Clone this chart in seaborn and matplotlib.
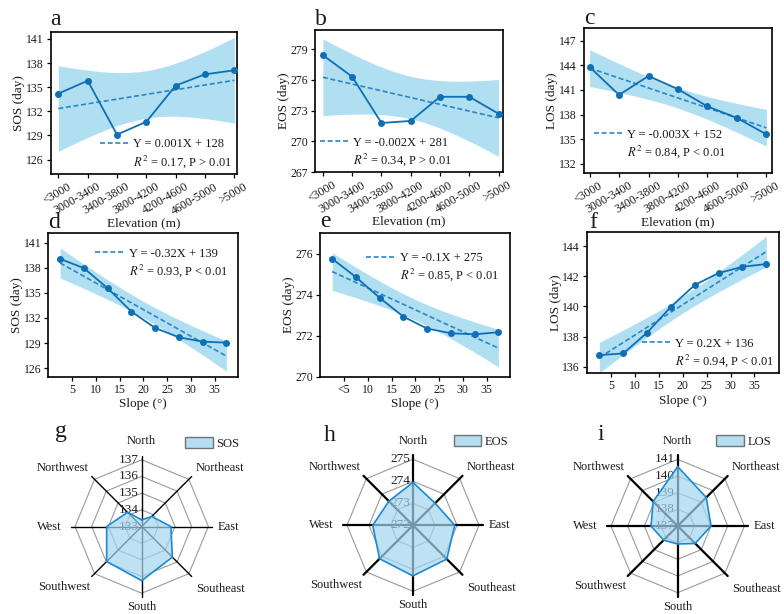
import numpy as np
import pandas as pd
import matplotlib
matplotlib.use('Agg')
import matplotlib.pyplot as plt
import matplotlib.transforms as mtrans
from matplotlib.lines import Line2D
from matplotlib.patches import Patch
import seaborn as sns

sns.set_theme(style='ticks')
plt.rcParams['font.family'] = ['Liberation Serif', 'DejaVu Serif']
plt.rcParams['mathtext.fontset'] = 'stix'

# ---------------- data ----------------
elev_cats = ['<3000', '3000-3400', '3400-3800', '3800-4200', '4200-4600', '4600-5000', '>5000']
sos_elev = [134.2, 135.8, 129.1, 130.7, 135.2, 136.6, 137.1]
eos_elev = [278.4, 276.3, 271.8, 272.0, 274.35, 274.35, 272.7]
los_elev = [143.8, 140.4, 142.7, 141.1, 139.0, 137.6, 135.6]

slope_mid = [2.5, 7.5, 12.5, 17.5, 22.5, 27.5, 32.5, 37.5]
sos_slope = [139.05, 137.94, 135.55, 132.76, 130.81, 129.70, 129.18, 129.06]
eos_slope = [275.76, 274.86, 273.85, 272.93, 272.35, 272.12, 272.07, 272.17]
los_slope = [136.77, 136.88, 138.26, 139.98, 141.43, 142.22, 142.64, 142.82]

aspects = ['North', 'Northeast', 'East', 'Southeast', 'South', 'Southwest', 'West', 'Northwest']
sos_aspect = [133.4, 133.85, 134.75, 135.6, 136.25, 135.97, 135.1, 134.2]
eos_aspect = [273.95, 273.42, 273.9, 274.17, 274.3, 274.15, 273.83, 273.55]
los_aspect = [140.56, 139.42, 139.0, 138.48, 138.08, 138.2, 138.6, 139.08]

eq_texts = ['Y = 0.001X + 128', 'Y = -0.002X + 281', 'Y = -0.003X + 152',
            'Y = -0.32X + 139', 'Y = -0.1X + 275', 'Y = 0.2X + 136']
r2_texts = [r'$R^2$ = 0.17, P > 0.01', r'$R^2$ = 0.34, P > 0.01', r'$R^2$ = 0.84, P < 0.01',
            r'$R^2$ = 0.93, P < 0.01', r'$R^2$ = 0.85, P < 0.01', r'$R^2$ = 0.94, P < 0.01']

# ---------------- style ----------------
W, H = 784, 614
fig = plt.figure(figsize=(W / 100, H / 100), dpi=100)
LINE = '#0f6fb5'
DASH = '#2a86c8'
BAND = '#b0dff2'
FILL = '#a3d6ef'
EDGE = '#1a8ad4'
TXT = '#1a1a1a'

T975 = {5: 2.5706, 6: 2.4469}


def ols_band(x, y, xs):
    x = np.asarray(x, float)
    y = np.asarray(y, float)
    n = len(x)
    b, a = np.polyfit(x, y, 1)
    yhat = a + b * x
    s = np.sqrt(((y - yhat) ** 2).sum() / (n - 2))
    xm = x.mean()
    sxx = ((x - xm) ** 2).sum()
    pred = a + b * xs
    se = s * np.sqrt(1 / n + (xs - xm) ** 2 / sxx)
    t = T975[n - 2]
    return pred, pred - t * se, pred + t * se


def px_rect(left, top, right, bottom):
    return [left / W, 1 - bottom / H, (right - left) / W, (bottom - top) / H]


def line_panel(rect, x, y, ylim, yticks, xlim, xticks, xticklabels, ylabel, xlabel,
               eq, r2, legloc, bbox, elev=False):
    ax = fig.add_axes(rect)
    x = np.asarray(x, float)
    xs = np.linspace(x.min(), x.max(), 200)
    pred, lo, hi = ols_band(x, y, xs)
    ax.fill_between(xs, lo, hi, color=BAND, lw=0, zorder=1)
    dash, = ax.plot(xs, pred, color=DASH, lw=1.2, ls=(0, (3, 1.6)), zorder=2)
    df = pd.DataFrame({'x': x, 'y': y})
    sns.lineplot(data=df, x='x', y='y', ax=ax, color=LINE, lw=1.3, marker='o',
                 markersize=5, markeredgewidth=0, legend=False, zorder=3)
    ax.set_ylim(*ylim)
    ax.set_yticks(yticks)
    ax.set_xlim(*xlim)
    ax.set_xticks(xticks)
    for s in ax.spines.values():
        s.set_visible(True)
        s.set_color('black')
        s.set_linewidth(1.2)
    ax.tick_params(direction='out', length=3, width=0.9, labelsize=8.5, pad=2,
                   color='black', labelcolor=TXT)
    if elev:
        ax.set_xticklabels(xticklabels, rotation=30, ha='right', rotation_mode='anchor')
        off = mtrans.ScaledTranslation(0.09, 0, fig.dpi_scale_trans)
        for lab in ax.get_xticklabels():
            lab.set_transform(lab.get_transform() + off)
        ax.set_xlabel(xlabel, fontsize=9.5, color=TXT, labelpad=0)
    else:
        ax.set_xticklabels(xticklabels)
        ax.set_xlabel(xlabel, fontsize=9.5, color=TXT, labelpad=2)
    ax.set_ylabel(ylabel, fontsize=9.5, color=TXT, labelpad=0.5)
    blank = Line2D([], [], alpha=0)
    ax.legend([dash, blank], [eq, r2], loc=legloc, bbox_to_anchor=bbox, frameon=False,
              fontsize=9, handlelength=2.3, handletextpad=0.4, labelspacing=0.2,
              borderpad=0, borderaxespad=0.35, labelcolor=TXT)
    return ax


pos = list(range(len(elev_cats)))
line_panel(px_rect(50.7, 31.7, 236.7, 174), pos, sos_elev, (124.2, 141.9), [126, 129, 132, 135, 138, 141],
           (-0.26, 6.08), pos, elev_cats, 'SOS (day)', 'Elevation (m)', eq_texts[0], r2_texts[0],
           'lower right', (1, 0), elev=True)
line_panel(px_rect(315.3, 30, 502.7, 172.3), pos, eos_elev, (267, 280.85), [267, 270, 273, 276, 279],
           (-0.26, 6.14), pos, elev_cats, 'EOS (day)', 'Elevation (m)', eq_texts[1], r2_texts[1],
           'lower left', (0, 0), elev=True)
line_panel(px_rect(583.7, 28.3, 772, 172.7), pos, los_elev, (130.94, 148.5), [132, 135, 138, 141, 144, 147],
           (-0.2, 6.19), pos, elev_cats, 'LOS (day)', 'Elevation (m)', eq_texts[2], r2_texts[2],
           'lower left', (0.03, 0.06), elev=True)

sl_ticks = [5, 10, 15, 20, 25, 30, 35]
line_panel(px_rect(48.3, 233.3, 238.3, 376.7), slope_mid, sos_slope, (125.0, 142.1), [126, 129, 132, 135, 138, 141],
           (0, 40), sl_ticks, [str(t) for t in sl_ticks], 'SOS (day)', 'Slope (°)', eq_texts[3], r2_texts[3],
           'upper right', (0.97, 0.93))
line_panel(px_rect(320.3, 233.3, 510.3, 376.7), slope_mid, eos_slope, (270, 277), [270, 272, 274, 276],
           (0, 40), sl_ticks, ['<5'] + [str(t) for t in sl_ticks[1:]], 'EOS (day)', 'Slope (°)', eq_texts[4], r2_texts[4],
           'upper right', (0.965, 0.9))
line_panel(px_rect(587, 231.7, 778.7, 373.3), slope_mid, los_slope, (135.56, 144.97), [136, 138, 140, 142, 144],
           (-0.1, 40.1), sl_ticks, [str(t) for t in sl_ticks], 'LOS (day)', 'Slope (°)', eq_texts[5], r2_texts[5],
           'lower right', (1, 0))


# ---------------- radar panels ----------------
lab_off = {
    'North': ((0, 6), 'center', 'bottom'),
    'Northeast': ((3, 2), 'left', 'bottom'),
    'East': ((4, 0), 'left', 'center'),
    'Southeast': ((3, -5), 'left', 'top'),
    'South': ((0, -3), 'center', 'top'),
    'Southwest': ((-1, -3), 'right', 'top'),
    'West': ((-6.5, 0), 'right', 'center'),
    'Northwest': ((-2, 2), 'right', 'bottom'),
}


def radar_panel(cx, cy, ring_r, values, rmin, nlev, label, spoke_lw, leg_xy):
    ext = 1.06
    rp = ring_r * ext
    ax = fig.add_axes([(cx - rp) / W, 1 - (cy + rp) / H, 2 * rp / W, 2 * rp / H], projection='polar')
    ax.set_theta_zero_location('N')
    ax.set_theta_direction(-1)
    ax.set_ylim(rmin, rmin + nlev * ext)
    ax.grid(False)
    ax.set_xticks([])
    ax.set_yticks([])
    ax.spines['polar'].set_visible(False)
    ax.patch.set_alpha(0)
    theta = np.deg2rad(np.arange(len(aspects)) * 45.0)
    th_c = np.append(theta, theta[0])
    for lev in range(1, nlev + 1):
        ax.plot(th_c, [rmin + lev] * len(th_c), color='#9a9a9a', lw=0.8, zorder=1)
    for t in theta:
        ax.plot([t, t], [rmin, rmin + nlev * ext], color='black', lw=spoke_lw, zorder=1.5, clip_on=False)
    for lev in range(0, nlev + 1):
        ax.annotate(f'{rmin + lev}', xy=(0, rmin + lev), xytext=(-2, 0), textcoords='offset points',
                    ha='right', va='center', fontsize=9.5, color='#222222', zorder=2)
    vals = np.append(values, values[0])
    ax.fill(th_c, vals, color=FILL, alpha=0.7, lw=0, zorder=4)
    ax.plot(th_c, vals, color=EDGE, lw=1.2, zorder=5)
    for t, name in zip(theta, aspects):
        off, ha, va = lab_off[name]
        ax.annotate(name, xy=(t, rmin + nlev * ext), xytext=off, textcoords='offset points',
                    ha=ha, va=va, fontsize=9, color=TXT, annotation_clip=False)
    handle = Patch(facecolor=FILL, alpha=0.8, edgecolor='#555555', lw=1.0)
    ax.legend([handle], [label], loc='upper left', bbox_to_anchor=(leg_xy[0] / W, 1 - leg_xy[1] / H),
              bbox_transform=fig.transFigure, frameon=False, fontsize=9, handlelength=2.2,
              handleheight=1.0, handletextpad=0.3, borderpad=0, borderaxespad=0, labelcolor=TXT)
    return ax


radar_panel(141.7, 526.5, 66.7, sos_aspect, 133, 4, 'SOS', 1.0, (185, 437))
radar_panel(413, 525.3, 66.0, eos_aspect, 272, 3, 'EOS', 1.6, (453.7, 435))
radar_panel(677.7, 526, 66.7, los_aspect, 137, 4, 'LOS', 1.6, (716.3, 435))

# panel letters
letters = [('a', 50, 25), ('b', 315, 25), ('c', 584, 24), ('d', 48, 228), ('e', 320, 227),
           ('f', 589, 228), ('g', 55, 437), ('h', 324, 441), ('i', 597, 440)]
for ch, x, y in letters:
    fig.text(x / W, 1 - y / H, ch, fontsize=17, va='baseline', ha='left', color=TXT)

fig.savefig('out.png', dpi=100)
